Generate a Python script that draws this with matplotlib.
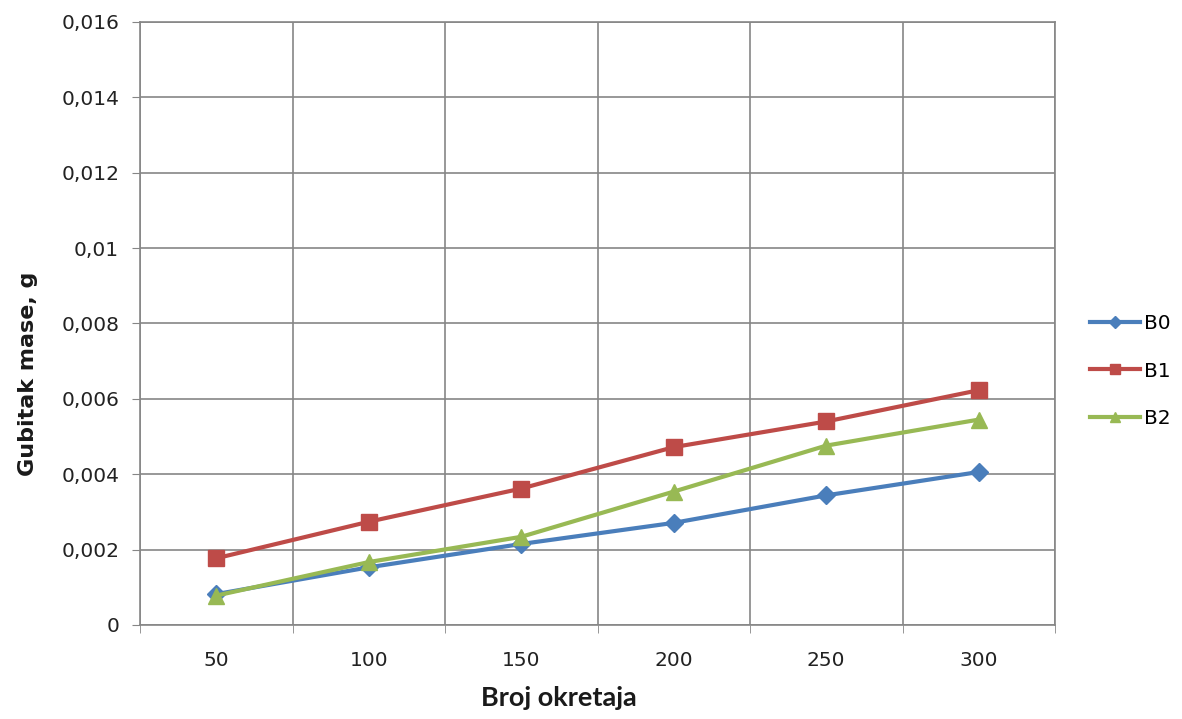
import matplotlib
matplotlib.use("Agg")
import matplotlib.pyplot as plt
from matplotlib.ticker import FixedLocator

categories = ["50", "100", "150", "200", "250", "300"]
b0 = [0.00082, 0.00153, 0.00215, 0.00271, 0.00344, 0.00406]
b1 = [0.00177, 0.00274, 0.00362, 0.00472, 0.00540, 0.00623]
b2 = [0.00078, 0.00167, 0.00234, 0.00354, 0.00476, 0.00545]
yticks = [0, 0.002, 0.004, 0.006, 0.008, 0.01, 0.012, 0.014, 0.016]
ytick_labels = ["0", "0,002", "0,004", "0,006", "0,008", "0,01", "0,012", "0,014", "0,016"]

plt.rcParams['font.family'] = ['DejaVu Sans']

fig = plt.figure(figsize=(11.82, 7.19), dpi=100)
ax = fig.add_axes([140/1182, 1-625/719, (1055-140)/1182, (625-22)/719])

x = list(range(len(categories)))
ax.plot(x, b0, color="#4A7EBB", lw=3, marker="D", ms=9, label="B0", zorder=3)
ax.plot(x, b1, color="#BE4B48", lw=3, marker="s", ms=11, label="B1", zorder=3)
ax.plot(x, b2, color="#98B954", lw=3, marker="^", ms=11, label="B2", zorder=4)

ax.set_xlim(-0.5, len(categories) - 0.5)
ax.set_ylim(0, 0.016)
ax.set_xticks(x)
ax.set_xticklabels(categories, fontsize=14.5, color="#222222")
ax.xaxis.set_minor_locator(FixedLocator([i - 0.5 for i in range(len(categories) + 1)]))
ax.tick_params(axis='x', which='major', length=0, pad=19)
ax.tick_params(axis='x', which='minor', length=6, color="#868686", direction='out')
ax.set_yticks(yticks)
ax.set_yticklabels(ytick_labels, fontsize=14.5, color="#222222")
ax.tick_params(axis='y', length=6, color="#868686", direction='out', pad=9)

ax.grid(True, which='minor', axis='x', color="#868686", lw=1.2)
ax.grid(True, which='major', axis='y', color="#868686", lw=1.2)
for s in ax.spines.values():
    s.set_color("#868686")
    s.set_linewidth(1.2)
ax.set_axisbelow(True)

ax.set_xlabel("Broj okretaja", fontsize=19.5, fontweight='bold', family=['Lato', 'DejaVu Sans'],
              color="#1a1a1a")
ax.set_ylabel("Gubitak mase, g", fontsize=16, fontweight='bold', family=['DejaVu Sans'],
              color="#1a1a1a")
ax.xaxis.set_label_coords((559-140)/915, (625-686)/603)
ax.yaxis.set_label_coords((38-140)/915, (625-374)/603)

fig.legend(handles=ax.get_lines(), loc='center left', bbox_to_anchor=(1090/1182, 1-371/719),
           frameon=False, fontsize=14.5, handlelength=2.5, labelspacing=1.4,
           markerscale=0.7, handletextpad=0.2, borderpad=0, borderaxespad=0)

fig.savefig("out.png", dpi=100)
